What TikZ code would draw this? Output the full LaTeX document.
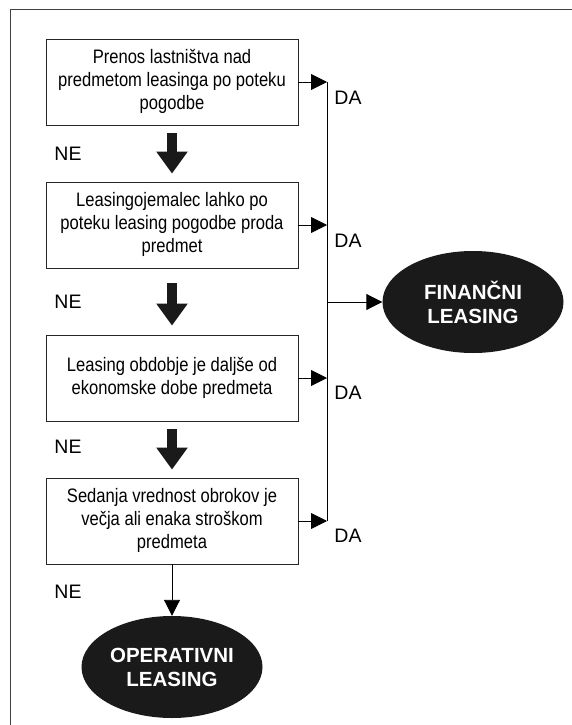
\documentclass[tikz,border=0pt]{standalone}
\usepackage{fontspec}
\setmainfont{Liberation Sans}
\usetikzlibrary{arrows.meta,shapes.geometric}
\definecolor{ink}{HTML}{1A1A1A}
\newcommand{\boxtext}[1]{\scalebox{0.85}[1]{\begin{tabular}{@{}c@{}}#1\end{tabular}}}
\begin{document}
\begin{tikzpicture}[x=1pt,y=-1pt,
  stepbox/.style={draw=black!85,line width=0.8pt,minimum width=252pt,minimum height=86pt,
    inner sep=0pt,font=\fontsize{19.5}{23}\selectfont},
  goal/.style={ellipse,fill=ink,text=white,inner sep=0pt,minimum width=181pt,minimum height=102pt,
    align=center,font=\fontsize{20.5}{24}\selectfont\bfseries},
  lbl/.style={font=\fontsize{19.5}{22}\selectfont,inner sep=0pt},
  bigarrow/.style={ink,line width=9.5pt,-{Triangle[width=30pt,length=22pt]}},
  thin/.style={black,line width=0.9pt,-{Triangle[width=16pt,length=16pt]}}]
\useasboundingbox (0,0) rectangle (572,725);
% outer frame
\draw[black!75,line width=1pt] (10,725) -- (10,10) -- (572,10);

% decision boxes
\node[stepbox] (b1) at (172,82)  {\boxtext{Prenos lastništva nad\\predmetom leasinga po poteku\\pogodbe}};
\node[stepbox] (b2) at (172,225) {\boxtext{Leasingojemalec lahko po\\poteku leasing pogodbe proda\\predmet}};
\node[stepbox] (b3) at (172,378) {\boxtext{Leasing obdobje je daljše od\\ekonomske dobe predmeta}};
\node[stepbox] (b4) at (172,521) {\boxtext{Sedanja vrednost obrokov je\\večja ali enaka stroškom\\predmeta}};

% outcomes
\node[goal] (fin) at (473,302) {FINANČNI\\LEASING};
\node[goal] (op)  at (172,667) {OPERATIVNI\\LEASING};

% collecting line for the DA branches
\coordinate (top) at (327,82);
\coordinate (bot) at (327,521);
\coordinate (mid) at (327,302);
\draw[black,line width=0.9pt] (top) -- (bot);

% NE branches (y axis points down, so a negative yshift moves down)
\draw[bigarrow] ([yshift=-8pt]b1.south) -- ([yshift=8pt]b2.north);
\draw[bigarrow] ([yshift=-15pt]b2.south) -- ([yshift=9pt]b3.north);
\draw[bigarrow] ([yshift=-8pt]b3.south) -- ([yshift=8pt]b4.north);
\draw[thin] (b4.south) -- (op.north);

% DA branches
\draw[thin] (b1.east) -- (b1.east -| top);
\draw[thin] (b2.east) -- (b2.east -| top);
\draw[thin] (b3.east) -- (b3.east -| top);
\draw[thin] (b4.east) -- (b4.east -| top);
\draw[thin] (mid) -- (mid -| fin.west);

% labels
\node[lbl] (ne1) at (68,154) {NE};
\node[lbl] (ne2) at (68,302) {NE};
\node[lbl] (ne3) at (68,447) {NE};
\node[lbl] (ne4) at (68,592) {NE};
\node[lbl] (da1) at (348,98)  {DA};
\node[lbl] (da2) at (348,241) {DA};
\node[lbl] (da3) at (348,393) {DA};
\node[lbl] (da4) at (348,536) {DA};
\end{tikzpicture}
\end{document}
